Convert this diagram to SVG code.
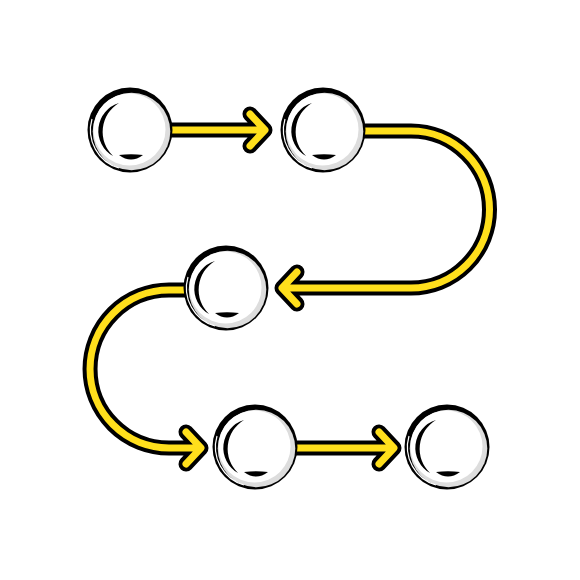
<svg xmlns="http://www.w3.org/2000/svg" xmlns:xlink="http://www.w3.org/1999/xlink" width="580" height="580" viewBox="0 0 580 580">
  <style>
    .outline { fill: none; stroke: #000; stroke-width: 15; stroke-linecap: round; stroke-linejoin: round; }
    .core { fill: none; stroke: #FFDF1C; stroke-width: 7; stroke-linecap: round; stroke-linejoin: round; }
  </style>
  <defs>
    <g id="bubble">
      <circle r="42.5" fill="#000"/>
      <circle cx="1.5" cy="1.5" r="38.8" fill="#DDDDDD"/>
      <circle cx="-0.5" cy="-0.5" r="36" fill="#fff"/>
      <path d="M-11,38 A39.5,39.5 0 0 1 -38,-11" fill="none" stroke="#fff" stroke-width="1.2"/>
      <path d="M-11,-27 A29,29 0 0 0 -17,26 A33.5,33.5 0 0 1 -11,-27 Z" fill="#000"/>
      <path d="M-11,25 Q1,34 13,25 Q1,23.5 -11,25 Z" fill="#000"/>
    </g>
    <path id="p1" d="M165,130 H264 M250,114 L265,130 L250,146"/>
    <path id="p2" d="M360,131 H411 A78.5,78.5 0 0 1 411,288 H283 M297,272 L282,288 L297,304"/>
    <path id="p3" d="M190,290 H169 A79,79 0 0 0 169,448 H200 M186,432 L201,448 L186,464"/>
    <path id="p4" d="M290,448 H393 M379,432 L394,448 L379,464"/>
  </defs>
  <rect width="580" height="580" fill="#fff"/>
  <g id="connectors">
    <use xlink:href="#p1" href="#p1" class="outline"/>
    <use xlink:href="#p1" href="#p1" class="core"/>
    <use xlink:href="#p2" href="#p2" class="outline"/>
    <use xlink:href="#p2" href="#p2" class="core"/>
    <use xlink:href="#p3" href="#p3" class="outline"/>
    <use xlink:href="#p3" href="#p3" class="core"/>
    <use xlink:href="#p4" href="#p4" class="outline"/>
    <use xlink:href="#p4" href="#p4" class="core"/>
  </g>
  <g id="node1"><use href="#bubble" xlink:href="#bubble" x="130" y="130"/></g>
  <g id="node2"><use href="#bubble" xlink:href="#bubble" x="323" y="130"/></g>
  <g id="node3"><use href="#bubble" xlink:href="#bubble" x="226" y="288"/></g>
  <g id="node4"><use href="#bubble" xlink:href="#bubble" x="255" y="447"/></g>
  <g id="node5"><use href="#bubble" xlink:href="#bubble" x="447" y="447"/></g>
</svg>
